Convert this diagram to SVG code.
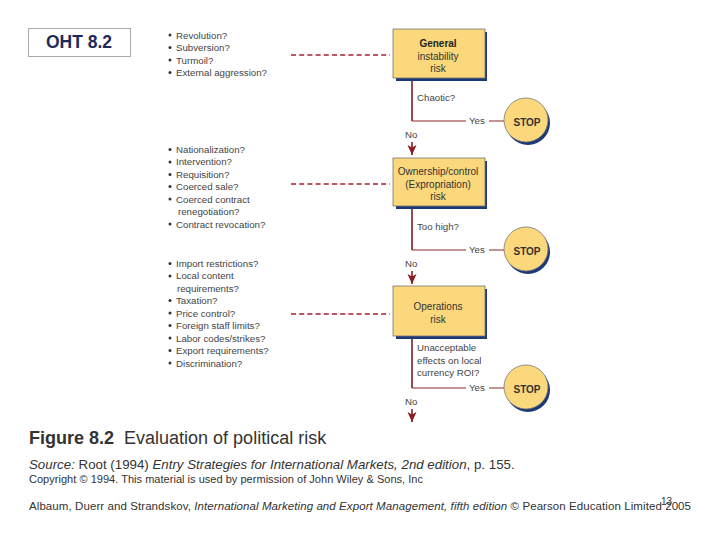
<svg xmlns="http://www.w3.org/2000/svg" width="720" height="540" viewBox="0 0 720 540">
<style>
text{font-family:"Liberation Sans",Arial,sans-serif;fill:#333}
.q{font-size:9.700px;fill:#444}
.dot{fill:#333}
.b{font-size:10px;fill:#333;text-anchor:middle}
.bb{font-weight:bold;fill:#222}
.box{fill:#fbd87c;stroke:#777;stroke-width:.8}
.sh{fill:#1b3a75}
.flow{stroke:#7d2020;stroke-width:1.6;fill:none}
.thin{stroke:#8a2a2a;stroke-width:1.2;fill:none}
.dash{stroke:#a82030;stroke-width:1.3;stroke-dasharray:5 3.2;fill:none}
.stop{font-size:10px;font-weight:bold;fill:#333;text-anchor:middle}
</style>
<defs>
<marker id="arr" markerUnits="userSpaceOnUse" markerWidth="12" markerHeight="11" refX="10" refY="5" orient="auto"><path d="M0 0.500L10 5L0 9.500L2.500 5Z" fill="#8a1c1c"/></marker>
<circle id="d" r="1.500" class="dot"/>
</defs>
<rect width="720" height="540" fill="#fff"/>
<g id="oht"><rect x="28.500" y="28.500" width="102" height="28" fill="#fff" stroke="#aaa" stroke-width="1"/><text x="79" y="48" font-size="17.500" font-weight="bold" text-anchor="middle" style="fill:#1e2a5a">OHT 8.2</text></g>
<g id="connectors">
<path class="dash" d="M291 55H390M291 184H390M291 314H390"/>
<path class="flow" d="M412 80V121M412 208V250M412 338V388"/>
<path class="thin" d="M412 121H466M489 121H504M412 250H466M489 250H504M412 388H466M489 388H504"/>
<path class="flow" d="M412 142V155" marker-end="url(#arr)"/>
<path class="flow" d="M412 271V284" marker-end="url(#arr)"/>
<path class="flow" d="M412 409V422" marker-end="url(#arr)"/>
</g>
<g id="list1">
<use href="#d" x="170" y="35"/><use href="#d" x="170" y="47.500"/><use href="#d" x="170" y="60"/><use href="#d" x="170" y="72.500"/>
<text class="q" x="176" y="38.500">Revolution?</text><text class="q" x="176" y="51">Subversion?</text><text class="q" x="176" y="63.500">Turmoil?</text><text class="q" x="176" y="76">External aggression?</text>
</g>
<g id="list2">
<use href="#d" x="170" y="149.500"/><use href="#d" x="170" y="162"/><use href="#d" x="170" y="174.500"/><use href="#d" x="170" y="186.500"/><use href="#d" x="170" y="199"/><use href="#d" x="170" y="224"/>
<text class="q" x="176" y="152.500">Nationalization?</text><text class="q" x="176" y="165">Intervention?</text><text class="q" x="176" y="177.500">Requisition?</text><text class="q" x="176" y="190">Coerced sale?</text><text class="q" x="176" y="202.500">Coerced contract</text><text class="q" x="178" y="215">renegotiation?</text><text class="q" x="176" y="227.500">Contract revocation?</text>
</g>
<g id="list3">
<use href="#d" x="170" y="263.500"/><use href="#d" x="170" y="276"/><use href="#d" x="170" y="300.500"/><use href="#d" x="170" y="313"/><use href="#d" x="170" y="325.500"/><use href="#d" x="170" y="338"/><use href="#d" x="170" y="350.500"/><use href="#d" x="170" y="363"/>
<text class="q" x="176" y="266.500">Import restrictions?</text><text class="q" x="176" y="279">Local content</text><text class="q" x="177" y="291.500">requirements?</text><text class="q" x="176" y="304">Taxation?</text><text class="q" x="176" y="316.500">Price control?</text><text class="q" x="176" y="329">Foreign staff limits?</text><text class="q" x="176" y="341.500">Labor codes/strikes?</text><text class="q" x="176" y="354">Export requirements?</text><text class="q" x="176" y="366.500">Discrimination?</text>
</g>
<g id="node-general"><rect class="sh" x="396" y="32" width="91" height="49"/><rect class="box" x="393" y="29" width="92" height="49"/>
<text class="b bb" x="438" y="47">General</text><text class="b" x="438" y="59.500">instability</text><text class="b" x="438" y="72">risk</text></g>
<g id="node-ownership"><rect class="sh" x="396" y="161" width="91" height="48"/><rect class="box" x="393" y="158" width="92" height="48"/>
<text class="b" x="438" y="175">Ownership/control</text><text class="b" x="438" y="187.500">(Expropriation)</text><text class="b" x="438" y="200">risk</text></g>
<g id="node-operations"><rect class="sh" x="396" y="289" width="91" height="50"/><rect class="box" x="393" y="286" width="92" height="50"/>
<text class="b" x="438" y="310">Operations</text><text class="b" x="438" y="323">risk</text></g>
<g id="labels">
<text class="q" x="417" y="101">Chaotic?</text><text class="q" x="469" y="124">Yes</text><text class="q" x="405" y="138">No</text>
<text class="q" x="417" y="230">Too high?</text><text class="q" x="469" y="253">Yes</text><text class="q" x="405" y="267">No</text>
<text class="q" x="417" y="351">Unacceptable</text><text class="q" x="417" y="363.500">effects on local</text><text class="q" x="417" y="376">currency ROI?</text><text class="q" x="469" y="391">Yes</text><text class="q" x="405" y="405">No</text>
</g>
<g id="stop1"><circle class="sh" cx="528" cy="123" r="22"/><circle class="box" cx="526" cy="120" r="22"/><text class="stop" x="527" y="125.500">STOP</text></g>
<g id="stop2"><circle class="sh" cx="528" cy="252" r="22"/><circle class="box" cx="526" cy="249" r="22"/><text class="stop" x="527" y="254.500">STOP</text></g>
<g id="stop3"><circle class="sh" cx="528" cy="390" r="22"/><circle class="box" cx="526" cy="387" r="22"/><text class="stop" x="527" y="392.500">STOP</text></g>
<g id="caption">
<text x="29" y="443.500" font-size="18" xml:space="preserve"><tspan font-weight="bold">Figure 8.2</tspan>  Evaluation of political risk</text>
<text x="29" y="469" font-size="13.300" xml:space="preserve"><tspan font-style="italic">Source:</tspan> Root (1994) <tspan font-style="italic">Entry Strategies for International Markets, 2nd edition</tspan>, p. 155.</text>
<text x="29" y="483" font-size="11" textLength="394">Copyright © 1994. This material is used by permission of John Wiley &amp; Sons, Inc</text>
<text x="29" y="510" font-size="11.500" textLength="662">Albaum, Duerr and Strandskov, <tspan font-style="italic">International Marketing and Export Management, fifth edition</tspan> © Pearson Education Limited 2005</text>
<text x="661" y="505" font-size="10">13</text>
</g>
</svg>
